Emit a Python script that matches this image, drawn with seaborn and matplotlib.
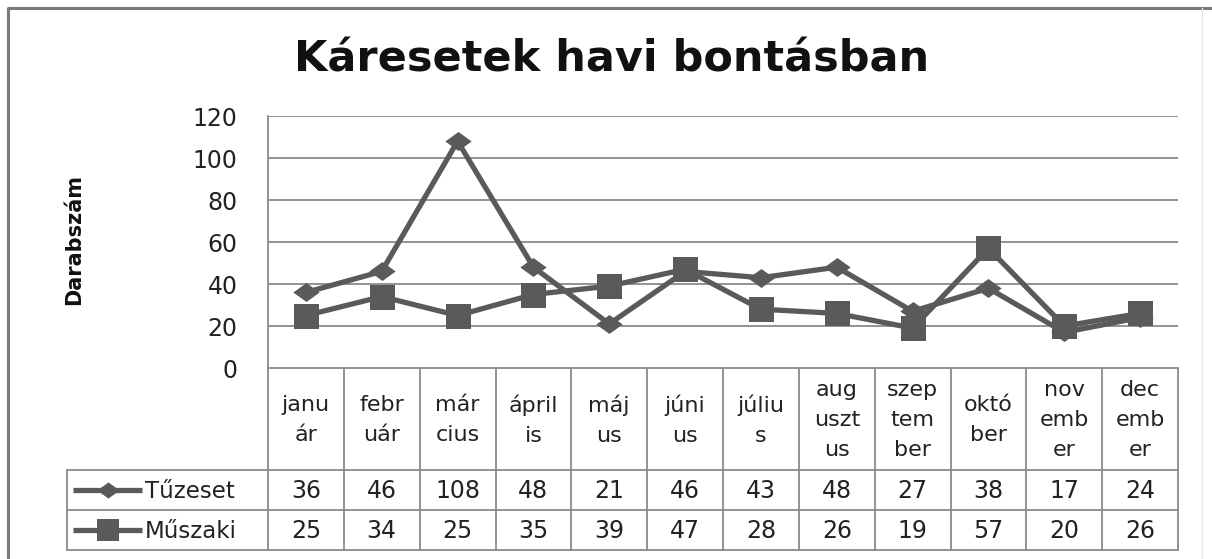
import matplotlib
matplotlib.use("Agg")
import matplotlib.pyplot as plt
from matplotlib.path import Path
import seaborn as sns
import pandas as pd

# Monthly claim counts
months = ["január", "február", "március", "április", "május", "június",
          "július", "augusztus", "szeptember", "október", "november", "december"]
month_labels = ["janu\nár", "febr\nuár", "már\ncius", "ápril\nis", "máj\nus", "júni\nus",
                "júliu\ns", "aug\nuszt\nus", "szep\ntem\nber", "októ\nber", "nov\nemb\ner",
                "dec\nemb\ner"]
series_names = ["Tűzeset", "Műszaki"]
tuzeset = [36, 46, 108, 48, 21, 46, 43, 48, 27, 38, 17, 24]
muszaki = [25, 34, 25, 35, 39, 47, 28, 26, 19, 57, 20, 26]
y_ticks = [0, 20, 40, 60, 80, 100, 120]

title = "Káresetek havi bontásban"
y_label = "Darabszám"

sns.set_style("white")
plt.rcParams["font.family"] = ["DejaVu Sans"]

W, H = 1212, 559
fig = plt.figure(figsize=(W / 100, H / 100), dpi=100)

# plot area in pixel coordinates
L, R, T, B = 268, 1178, 116, 368
ax = fig.add_axes([L / W, 1 - B / H, (R - L) / W, (B - T) / H])

df = pd.DataFrame({
    "month": list(range(len(months))) * 2,
    "value": tuzeset + muszaki,
    "series": [series_names[0]] * len(months) + [series_names[1]] * len(months),
})

diamond = Path([(-1, 0), (0, 0.72), (1, 0), (0, -0.72), (-1, 0)],
               [Path.MOVETO, Path.LINETO, Path.LINETO, Path.LINETO, Path.CLOSEPOLY])
line_color = "#5a5a5a"
marker_sizes = {series_names[0]: 19, series_names[1]: 18}

for name, mk in zip(series_names, [diamond, "s"]):
    sub = df[df["series"] == name]
    sns.lineplot(data=sub, x="month", y="value", ax=ax, color=line_color,
                 linewidth=3.8, marker=mk, markersize=marker_sizes[name],
                 markeredgewidth=0, markerfacecolor=line_color, legend=False)

ax.set_xlim(-0.5, len(months) - 0.5)
ax.set_ylim(0, 120)
ax.set_yticks(y_ticks)
ax.yaxis.grid(True, color="#8a8a8a", linewidth=1.3)
ax.set_xticks([])
ax.set_xlabel("")
ax.set_ylabel("")
ax.tick_params(axis="y", length=0, pad=22, labelsize=17, labelcolor="#222222")
for s in ["top", "right", "bottom"]:
    ax.spines[s].set_visible(False)
ax.spines["left"].set_color("#8a8a8a")
ax.spines["left"].set_linewidth(1.3)

# overlay in pixel coordinates for frame, title and data table
ov = fig.add_axes([0, 0, 1, 1], zorder=-1)
ov.set_xlim(0, W)
ov.set_ylim(H, 0)
ov.axis("off")
ov.patch.set_alpha(0)

frame_c = "#7a7a7a"
ov.plot([8, 8, 1212], [559, 8, 8], color=frame_c, lw=2.2, solid_capstyle="butt")
ov.plot([1202, 1202], [8, 559], color="#e6e6e6", lw=1)

fig.text(612 / W, 1 - 60 / H, title, ha="center", va="center",
         fontsize=31, fontweight="bold", color="#111111")
fig.text(74 / W, 1 - 240 / H, y_label, rotation=90, ha="center", va="center",
         fontsize=15, fontweight="bold", color="#111111",
         family=["Liberation Sans Narrow", "DejaVu Sans"])

grid_c = "#8a8a8a"
col_w = (R - L) / len(months)
hdr_top, hdr_bot = 368, 470
row_bot = [510, 550]
tbl_left = 67
lw = 1.3

# table rules
ov.plot([L, R], [hdr_top, hdr_top], color=grid_c, lw=lw)
for yy in [hdr_bot] + row_bot:
    ov.plot([tbl_left, R], [yy, yy], color=grid_c, lw=lw)
ov.plot([tbl_left, tbl_left], [hdr_bot, row_bot[-1]], color=grid_c, lw=lw)
for i in range(len(months) + 1):
    xx = L + i * col_w
    ov.plot([xx, xx], [hdr_top, row_bot[-1]], color=grid_c, lw=lw)

txt_c = "#222222"
for i, lab in enumerate(month_labels):
    ov.text(L + (i + 0.5) * col_w, (hdr_top + hdr_bot) / 2 + 1, lab, ha="center",
            va="center", fontsize=16, color=txt_c, linespacing=1.62)

row_tops = [hdr_bot, row_bot[0]]
for r, (name, vals, mk) in enumerate(zip(series_names, [tuzeset, muszaki], [diamond, "s"])):
    yc = (row_tops[r] + row_bot[r]) / 2
    for i, v in enumerate(vals):
        ov.text(L + (i + 0.5) * col_w, yc + 1, str(v), ha="center", va="center",
                fontsize=17, color=txt_c)
    ov.plot([73, 142], [yc, yc], color=line_color, lw=3.8, solid_capstyle="butt")
    ov.plot([107.5], [yc], marker=mk, markersize=marker_sizes[name] * 0.85,
            color=line_color, markeredgewidth=0)
    ov.text(145, yc + 1, name, ha="left", va="center", fontsize=16.5, color=txt_c)

fig.savefig("out.png", dpi=100, facecolor="white")
